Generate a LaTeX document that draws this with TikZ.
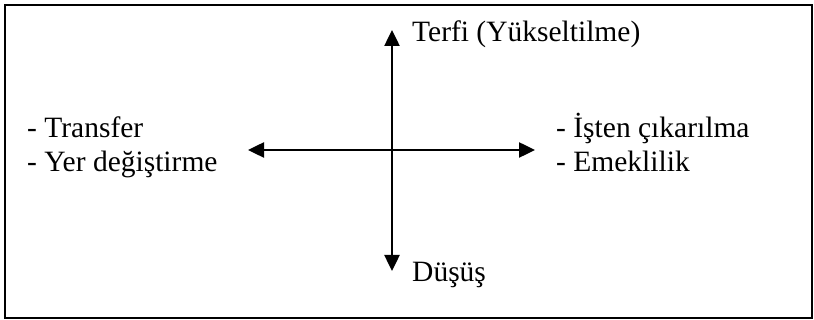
\documentclass[tikz,border=0pt]{standalone}
\usepackage{fontspec}
\setmainfont{Liberation Serif}
\usetikzlibrary{arrows.meta}
\tikzset{
  lbl/.style={anchor=base west, inner sep=0pt, font=\fontsize{29.5}{33}\selectfont},
  axis/.style={line width=2.5pt, {Triangle[length=16pt,width=15pt]}-{Triangle[length=16pt,width=15pt]}},
  frame/.style={line width=2pt}
}
\begin{document}
\begin{tikzpicture}[x=1pt,y=-1pt]
\useasboundingbox (0,0) rectangle (814,320);
\draw[frame] (5,5) rectangle (812,318);
\coordinate (top) at (392,30);
\coordinate (bottom) at (392,271);
\coordinate (left) at (248,150);
\coordinate (right) at (535,150);
\draw[axis] (bottom) -- (top);
\draw[axis] (left) -- (right);
\node[lbl] (terfi) at (412,41.7) {Terfi (Yükseltilme)};
\node[lbl] (dusus) at (412,281.7) {Düşüş};
\node[lbl] (transfer) at (27,138) {- Transfer};
\node[lbl] (yer) at (27,171.5) {- Yer değiştirme};
\node[lbl] (isten) at (556,137.5) {- İşten çıkarılma};
\node[lbl] (emek) at (556,171.5) {- Emeklilik};
\end{tikzpicture}
\end{document}
